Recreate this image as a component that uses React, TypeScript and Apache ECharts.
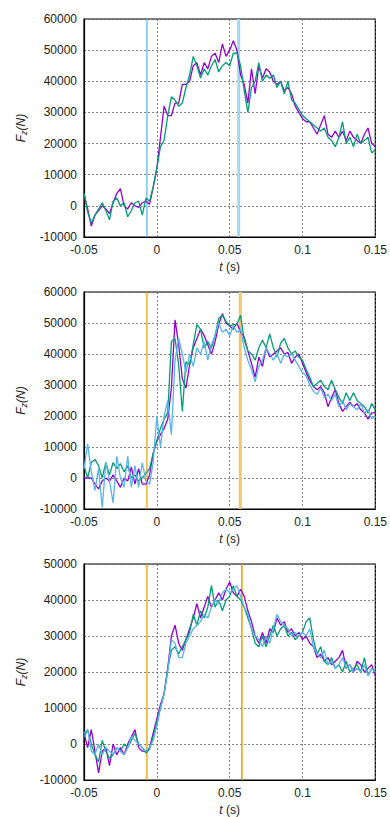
import React, { useEffect, useRef } from "react";
import * as echarts from "echarts";

// sampling grid (s)
const T_START = -0.05;
const T_STEP = 0.0025;
const N_POINTS = 81;

const xTicks = [-0.05, 0, 0.05, 0.1, 0.15];

// Panel 1 (Fz in N)
const p1Purple = [
  4000, -1000, -6500, -3000, -1500, 0, -1000, -2500, 1000, 4000,
  5500, 0, -1000, 1000, 0, -500, 1000, 1500, 500, 6000,
  12000, 22000, 32000, 29000, 29000, 33000, 33000, 39000, 39000, 40000, 45000,
  46000, 42000, 46000, 44000, 48000, 49000, 46000, 52000, 48000, 50000,
  53000, 50000, 42000, 39000, 33000, 44000, 36000, 45000, 41000, 44000,
  43000, 40000, 39000, 40000, 37000, 38000, 36000, 32000, 30000, 28000,
  27000, 27000, 25000, 23000, 26000, 29000, 23000, 22000, 24000, 22000,
  24000, 21000, 24000, 22000, 21000, 20000, 23000, 25000, 20000, 19000,
];
const p1Green = [
  4000, -2000, -5500, -3000, -1000, 1000, -1500, -4500, 1500, 2500,
  0, 1000, -3500, -1500, 1000, 1500, -3000, 2500, 1500, 6000,
  12000, 19000, 21000, 29000, 35000, 34000, 32000, 33000, 38000, 42000, 48000,
  45000, 41000, 44000, 42000, 45000, 47000, 43000, 45000, 46000, 45000,
  49000, 49000, 45000, 37000, 30000, 38000, 40000, 46000, 40000, 42000,
  41000, 42000, 38000, 40000, 36000, 40000, 34000, 33000, 31000, 29000,
  28000, 27000, 26000, 25000, 24000, 25000, 22000, 21000, 19000, 22000,
  27000, 20000, 22000, 19000, 23000, 20000, 21000, 22000, 17000, 18000,
];

// Panel 2
const p2Purple = [
  0, 0, 0, -2000, -3500, -1000, 0, -1000, 1000, -1000,
  -3000, 0, -1000, 3500, -2000, 3000, -2000, -2000, 1000, 8000,
  12000, 14000, 16000, 19000, 29000, 51000, 43000, 32000, 29000, 36500, 42000,
  45000, 48000, 46000, 43000, 40000, 44000, 49500, 53000, 50000, 49000,
  48000, 50000, 47000, 45500, 41000, 37000, 32500, 39000, 36000, 42000,
  39000, 40000, 41000, 42000, 40000, 40500, 37000, 39000, 40000, 37000,
  34000, 31500, 29500, 28500, 29500, 27500, 23000, 26000, 28500, 24000,
  21500, 23000, 24500, 23000, 24000, 22000, 21000, 19000, 21000, 21000,
];
const p2Green = [
  4000, 0, 5000, 6000, 4000, 0, 5000, 1000, 5000, 3000,
  4600, 2000, 4000, 0, 1000, -1000, 0, 1500, 3000, 8000,
  12000, 16000, 19000, 21000, 44000, 45000, 36500, 21500, 37500, 36500, 43000,
  49500, 48000, 42000, 44000, 42000, 46000, 51500, 52500, 50500, 49000,
  49500, 49500, 52500, 44500, 41000, 40000, 38000, 42000, 44500, 42000,
  46500, 42000, 39000, 43500, 45000, 42000, 40000, 41000, 39000, 38000,
  35000, 32500, 29500, 30500, 31500, 29500, 28500, 31500, 28500, 26000,
  24000, 27500, 25000, 27500, 25000, 24000, 23000, 21000, 24000, 22000,
];
const p2Blue = [
  3000, 11000, 2000, -4000, 3000, -9500, 5000, -1000, -8000, 7000,
  0, -3000, 7000, -3000, 4000, -3000, 5000, -1000, -2000, 5000,
  20000, 10000, 20000, 25000, 14000, 38000, 45000, 40000, 34000, 40000, 36000,
  42000, 40000, 44000, 38000, 43000, 46000, 50000, 47000, 48000, 46000,
  49000, 47000, 48000, 42000, 38000, 35000, 31000, 36000, 38000, 42000,
  40000, 38000, 40000, 37000, 40000, 39000, 40000, 38000, 36000, 34000,
  33000, 30000, 28000, 27000, 29000, 26000, 27000, 25000, 27000, 23000,
  25000, 22000, 24000, 23000, 22000, 24000, 21000, 22000, 19000, 20000,
];

// Panel 3
const p3Purple = [
  3000, -1000, 4000, -2000, -8000, -2000, -1000, -6000, 0, -3000,
  -1000, -3000, 0, 2000, 4000, -1000, -2000, -2000, -1000, 3000,
  7000, 11000, 14000, 21000, 30000, 33000, 28000, 26000, 29000, 32000, 35000,
  39000, 35000, 38000, 41000, 38000, 40000, 42000, 40000, 43000, 45000,
  42000, 41000, 43000, 41000, 37000, 34000, 30000, 28000, 31000, 28000,
  32000, 31000, 35000, 33000, 34000, 31000, 32000, 30000, 31000, 29000,
  30000, 28000, 27000, 24000, 25000, 23000, 24000, 22000, 23000, 24000,
  26000, 21000, 22000, 20000, 23000, 22000, 20000, 21000, 22000, 19000,
];
const p3Green = [
  2000, 4000, 0, -3000, -5000, 1000, -2000, -4000, -3000, -1000,
  -2000, 0, -1000, 1000, 3000, 0, -1000, -2500, -1500, 2000,
  6000, 10000, 14000, 21000, 26000, 27000, 25000, 27000, 29000, 31000, 36000,
  33000, 37000, 35000, 38000, 44000, 38000, 40000, 37000, 40000, 41000,
  44000, 41000, 40000, 38000, 35000, 32000, 28000, 27000, 30000, 27000,
  30000, 33000, 30000, 32000, 33000, 30000, 31000, 29000, 30000, 31000,
  34000, 35000, 29000, 25000, 27000, 23000, 22000, 24000, 21000, 22000,
  20000, 23000, 20000, 21000, 22000, 20000, 24000, 19000, 21000, 20000,
];
const p3Blue = [
  3000, 4000, -2000, -3000, 0, -3000, -1000, -2000, -3000, -1000,
  -2000, -3000, -1000, 2000, 1000, 0, -1000, -2000, -1000, 1000,
  5000, 10000, 14000, 20000, 29000, 28000, 24000, 24000, 28000, 30000, 32000,
  33000, 34000, 36000, 35000, 38000, 40000, 39000, 42000, 43000, 42000,
  43000, 44000, 41000, 38000, 36000, 32000, 30000, 29000, 27000, 30000,
  28000, 32000, 36000, 34000, 33000, 32000, 30000, 31000, 30000, 31000,
  30000, 32000, 27000, 25000, 24000, 26000, 22000, 23000, 21000, 22000,
  24000, 21000, 22000, 20000, 21000, 20000, 22000, 19000, 21000, 20000,
];

// vertical marker times (s)
const p1Markers = [-0.0068, 0.0562];
const p2Markers = [-0.0068, 0.0573];
const p3Markers = [-0.0068, 0.0584];

const yMin = -10000;
const yMax = [60000, 60000, 50000];

const PURPLE = "#9400D3";
const GREEN = "#009E73";
const BLUE = "#56B4E9";
const ORANGE = "#E69F00";
const FONT = "'Liberation Sans', Arial, Helvetica, sans-serif";

const times = Array.from({ length: N_POINTS }, (_, i) => +(T_START + i * T_STEP).toFixed(4));
const pairs = (vals: number[]) => vals.map((v, i) => [times[i], v]);

export default function App() {
  const ref = useRef<HTMLDivElement>(null);
  useEffect(() => {
    if (!ref.current) return;
    const chart = echarts.init(ref.current, undefined, { renderer: "svg" });

    const panels = [
      { top: 19, height: 218, curves: [[p1Purple, PURPLE], [p1Green, GREEN]], markers: p1Markers,
        markerStyles: [{ color: BLUE, width: 1.2 }, { color: "#a3d6f1", width: 3 }] },
      { top: 292, height: 217, curves: [[p2Purple, PURPLE], [p2Green, GREEN], [p2Blue, BLUE]], markers: p2Markers,
        markerStyles: [{ color: ORANGE, width: 1.2 }, { color: "#f2c66a", width: 3 }] },
      { top: 564, height: 218, curves: [[p3Purple, PURPLE], [p3Green, GREEN], [p3Blue, BLUE]], markers: p3Markers,
        markerStyles: [{ color: ORANGE, width: 1.3 }, { color: ORANGE, width: 1.5 }] },
    ];

    const grid = panels.map((p) => ({
      left: 84, right: 14, top: p.top, height: p.height,
      show: true, borderColor: "#000", borderWidth: 1.2, backgroundColor: "transparent",
    }));

    const xAxis = panels.map((_, k) => ({
      type: "value", gridIndex: k, min: xTicks[0], max: xTicks[xTicks.length - 1], interval: 0.05,
      axisLine: { show: true, onZero: false, lineStyle: { color: "#000", width: 1.2 } },
      axisTick: { show: false },
      axisLabel: { margin: 7, color: "#222", fontSize: 12, fontFamily: FONT,
        formatter: (v: number) => String(parseFloat(v.toFixed(2))) },
      splitLine: { show: true, lineStyle: { color: "#666", width: 0.8, type: [2, 2] } },
      name: "{i|t} (s)", nameLocation: "middle", nameGap: 24,
      nameTextStyle: { color: "#222", fontSize: 12, fontFamily: FONT,
        rich: { i: { fontStyle: "italic", fontSize: 12, fontFamily: FONT, color: "#222" } } },
    }));

    const yAxis = panels.map((_, k) => ({
      type: "value", gridIndex: k, min: yMin, max: yMax[k], interval: 10000,
      axisLine: { show: true, onZero: false, lineStyle: { color: "#000", width: 1.2 } },
      axisTick: { show: false },
      axisLabel: { margin: 7, color: "#222", fontSize: 12, fontFamily: FONT,
        formatter: (v: number) => String(v) },
      splitLine: { show: true, lineStyle: { color: "#666", width: 0.8, type: [2, 2] } },
      name: "{f|F}{s|z}{f|(N)}", nameLocation: "middle", nameGap: 54, nameRotate: 90,
      nameTextStyle: { color: "#222", fontFamily: FONT,
        rich: {
          f: { fontStyle: "italic", fontSize: 12, fontFamily: FONT, color: "#222" },
          s: { fontStyle: "italic", fontSize: 9, fontFamily: FONT, color: "#222", verticalAlign: "bottom", padding: [6, 0, 0, 0] },
        } },
    }));

    const series: any[] = [];
    panels.forEach((p, k) => {
      p.markers.forEach((m, j) => {
        series.push({
          type: "line", xAxisIndex: k, yAxisIndex: k, silent: true,
          data: [[m, yMin], [m, yMax[k]]],
          showSymbol: false, symbol: "none",
          lineStyle: { color: p.markerStyles[j].color, width: p.markerStyles[j].width },
          itemStyle: { color: p.markerStyles[j].color }, z: 2,
        });
      });
      p.curves.forEach(([vals, color]) => {
        series.push({
          type: "line", xAxisIndex: k, yAxisIndex: k, data: pairs(vals as number[]),
          showSymbol: false, symbol: "none", lineStyle: { color: color as string, width: 1.3 },
          itemStyle: { color: color as string }, z: 3,
        });
      });
    });

    chart.setOption({
      animation: false,
      textStyle: { fontFamily: FONT },
      grid, xAxis, yAxis, series,
    });
    return () => chart.dispose();
  }, []);

  return <div ref={ref} style={{ position: "fixed", left: 0, top: 0, width: 390, height: 817, background: "#fff" }} />;
}
